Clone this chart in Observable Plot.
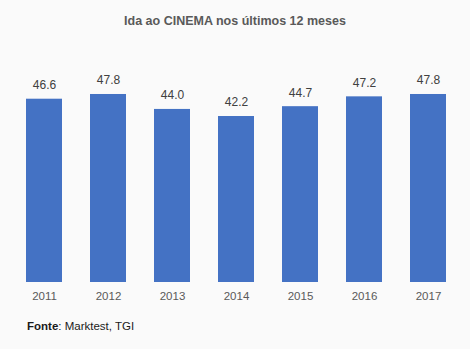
<!DOCTYPE html>
<html>
<head>
<meta charset="utf-8">
<script src="https://cdn.jsdelivr.net/npm/d3@7"></script>
<script src="https://cdn.jsdelivr.net/npm/@observablehq/plot@0.6"></script>
<style>
  html, body { margin: 0; padding: 0; background: #fafafa; }
  body { width: 470px; height: 349px; overflow: hidden; font-family: "Liberation Sans", Arial, sans-serif; }
  #title { height: 42px; line-height: 42px; text-align: center; font-weight: bold; font-size: 12.5px; color: #595959; }
  #chart svg { display: block; background: #fafafa; }
  #caption { padding-left: 27px; padding-top: 8px; font-size: 11.5px; color: #1a1a1a; }
</style>
</head>
<body>
<div id="title">Ida ao CINEMA nos últimos 12 meses</div>
<div id="chart"></div>
<div id="caption"><b>Fonte</b>: Marktest, TGI</div>
<script>
const years = ["2011", "2012", "2013", "2014", "2015", "2016", "2017"];
const values = [46.6, 47.8, 44.0, 42.2, 44.7, 47.2, 47.8];

const data = years.map((y, i) => ({year: y, value: values[i]}));

const chart = Plot.plot({
  width: 470,
  height: 270,
  marginTop: 4,
  marginBottom: 30,
  marginLeft: 10,
  marginRight: 8,
  style: {background: "#fafafa", fontFamily: "Liberation Sans, Arial, sans-serif", fontSize: "11px"},
  x: {domain: years, paddingInner: 0.43, paddingOuter: 0.22, label: null},
  y: {domain: [0, 60], axis: null},
  marks: [
    Plot.barY(data, {x: "year", y: "value", fill: "#4472c4"}),
    Plot.text(data, {x: "year", y: "value", text: d => d.value.toFixed(1), dy: -14, fill: "#404040", fontSize: 12}),
    Plot.axisX({tickSize: 0, tickPadding: 9, fill: "#595959", fontSize: 11.5, label: null})
  ]
});
document.getElementById("chart").appendChild(chart);
</script>
</body>
</html>
